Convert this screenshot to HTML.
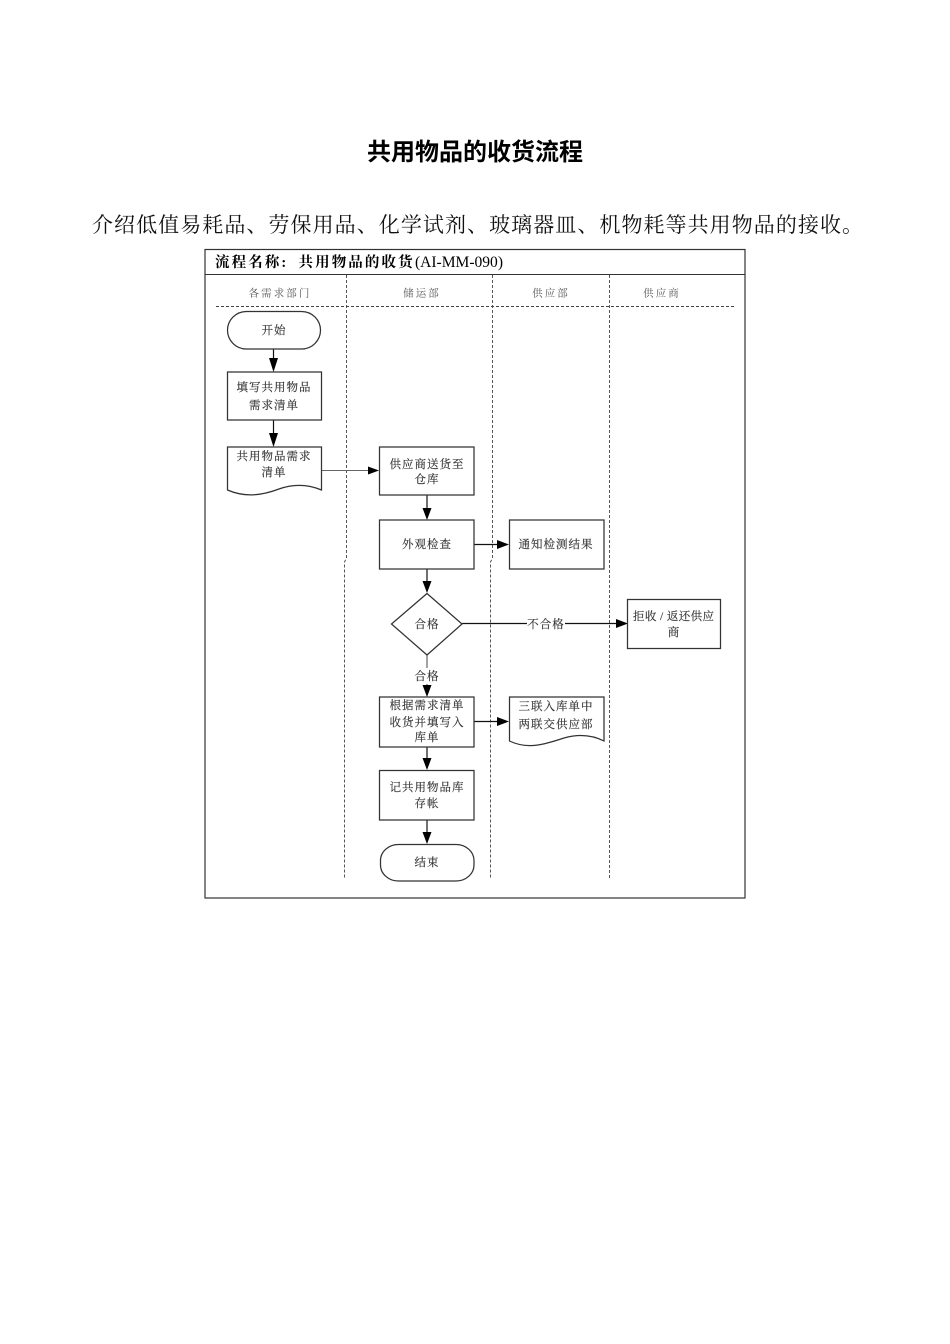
<!DOCTYPE html>
<html lang="zh"><head><meta charset="utf-8">
<style>
html,body{margin:0;padding:0;background:#fff}
svg{display:block}
.s{font-family:"Liberation Serif","Noto Serif CJK SC",serif}
.n{font-size:11.5px;fill:#333;stroke:#333;stroke-width:.15;text-anchor:middle;letter-spacing:1px;dominant-baseline:central;transform:translateY(1px)}
.h{font-size:10.5px;fill:#555;text-anchor:middle;letter-spacing:2.1px;dominant-baseline:central;transform:translateY(1px)}
.b{fill:#fff;stroke:#333;stroke-width:1.25}
.l{stroke:#111;stroke-width:1.2;fill:none}
.d{stroke:#444;stroke-width:.9;stroke-dasharray:3 2;fill:none}
.a{fill:#000;stroke:none}
</style></head>
<body>
<svg width="950" height="1344" viewBox="0 0 950 1344" xmlns="http://www.w3.org/2000/svg">
<rect width="950" height="1344" fill="#fff"/>
<text x="475" y="160" text-anchor="middle" font-size="24" font-weight="700" font-family="'Liberation Sans','Noto Sans CJK SC',sans-serif" fill="#000">共用物品的收货流程</text>
<text class="s" x="92" y="232" font-size="21" letter-spacing="1.06" fill="#111">介绍低值易耗品、劳保用品、化学试剂、玻璃器皿、机物耗等共用物品的接收。</text>

<rect x="205" y="249.5" width="540" height="648.5" fill="#fff" stroke="#333" stroke-width="1.2"/>
<line x1="205" y1="274.5" x2="745" y2="274.5" stroke="#333" stroke-width="1.1"/>
<text class="s" x="215" y="267" font-size="14.5" font-weight="700" letter-spacing="2.1" fill="#000">流程名称:</text>
<text class="s" x="298.5" y="267" font-size="14.5" font-weight="700" letter-spacing="2.1" fill="#000">共用物品的收货</text>
<text x="415" y="267" font-size="16" textLength="88" lengthAdjust="spacingAndGlyphs" font-family="'Liberation Serif',serif" fill="#000">(AI-MM-090)</text>

<line class="d" x1="216" y1="306.5" x2="734" y2="306.5"/>
<path class="d" d="M346.5 275V558L344.5 562V878"/>
<path class="d" d="M492.5 275V558L490.5 562V878"/>
<path class="d" d="M609.5 275V878"/>

<text class="s h" x="280" y="293">各需求部门</text>
<text class="s h" x="422" y="293">储运部</text>
<text class="s h" x="551" y="293">供应部</text>
<text class="s h" x="662" y="293">供应商</text>

<!-- connectors -->
<line class="l" x1="273.5" y1="349" x2="273.5" y2="360"/><path class="a" d="M269 358L278 358L273.5 372Z"/>
<line class="l" x1="273.5" y1="420" x2="273.5" y2="435"/><path class="a" d="M269 433L278 433L273.5 447Z"/>
<line x1="322" y1="470.5" x2="370" y2="470.5" stroke="#666" stroke-width="1"/><path class="a" d="M368 466.5L379 470.5L368 474.5Z"/>
<line class="l" x1="427" y1="495" x2="427" y2="510"/><path class="a" d="M422.5 508L431.5 508L427 520Z"/>
<line class="l" x1="474" y1="544.5" x2="500" y2="544.5"/><path class="a" d="M497 540L509 544.5L497 549Z"/>
<line class="l" x1="427" y1="569" x2="427" y2="583"/><path class="a" d="M422.5 581L431.5 581L427 593Z"/>
<line class="l" x1="462" y1="623.5" x2="620" y2="623.5"/><path class="a" d="M616 619L628 623.5L616 628Z"/>
<line x1="427" y1="655" x2="427" y2="688" stroke="#444" stroke-width="1"/><path class="a" d="M422.5 685L431.5 685L427 697Z"/>
<line class="l" x1="474" y1="721.5" x2="500" y2="721.5"/><path class="a" d="M497 717L509 721.5L497 726Z"/>
<line class="l" x1="427" y1="747" x2="427" y2="760"/><path class="a" d="M422.5 758L431.5 758L427 770Z"/>
<line class="l" x1="427" y1="820" x2="427" y2="834"/><path class="a" d="M422.5 832L431.5 832L427 844Z"/>

<!-- nodes -->
<rect class="b" x="227.5" y="311.5" width="93" height="37.5" rx="19" ry="18.7"/>
<text class="s n" x="274" y="330">开始</text>

<rect class="b" x="227.5" y="372" width="94" height="48"/>
<text class="s n" x="274" y="387">填写共用物品</text>
<text class="s n" x="274" y="405">需求清单</text>

<path class="b" d="M227.5 447H321.5V490C307 484 293 484 279 489C263 495 246 498 227.5 490Z"/>
<text class="s n" x="274" y="456">共用物品需求</text>
<text class="s n" x="274" y="472">清单</text>

<rect class="b" x="379.5" y="447" width="94.5" height="48"/>
<text class="s n" x="427" y="464">供应商送货至</text>
<text class="s n" x="427" y="479">仓库</text>

<rect class="b" x="379.5" y="520" width="94.5" height="49"/>
<text class="s n" x="427" y="544">外观检查</text>

<rect class="b" x="509.5" y="520" width="94.5" height="49"/>
<text class="s n" x="556" y="544">通知检测结果</text>

<path class="b" d="M427 593.5L462 624L427 655L391.5 624Z"/>
<text class="s n" x="427" y="624">合格</text>

<rect x="527" y="616" width="38" height="15" fill="#fff"/>
<text class="s n" x="546" y="624">不合格</text>

<rect class="b" x="627.5" y="599.5" width="93" height="49"/>
<text class="s n" x="674" y="616" textLength="82">拒收 / 返还供应</text>
<text class="s n" x="674" y="632">商</text>

<rect x="414" y="668" width="26" height="16" fill="#fff"/>
<text class="s n" x="427" y="676">合格</text>

<rect class="b" x="379.5" y="697" width="94.5" height="50"/>
<text class="s n" x="427" y="705">根据需求清单</text>
<text class="s n" x="427" y="722">收货并填写入</text>
<text class="s n" x="427" y="737">库单</text>

<path class="b" d="M509.5 697H604V741C592 735 578 734 564 738C546 744 528 750 509.5 741Z"/>
<text class="s n" x="556" y="706">三联入库单中</text>
<text class="s n" x="556" y="724">两联交供应部</text>

<rect class="b" x="379.5" y="770.5" width="94.5" height="49.5"/>
<text class="s n" x="427" y="787">记共用物品库</text>
<text class="s n" x="427" y="803">存帐</text>

<rect class="b" x="380.5" y="844.5" width="93.5" height="36.5" rx="18" ry="16"/>
<text class="s n" x="427" y="862">结束</text>
</svg>
</body></html>
